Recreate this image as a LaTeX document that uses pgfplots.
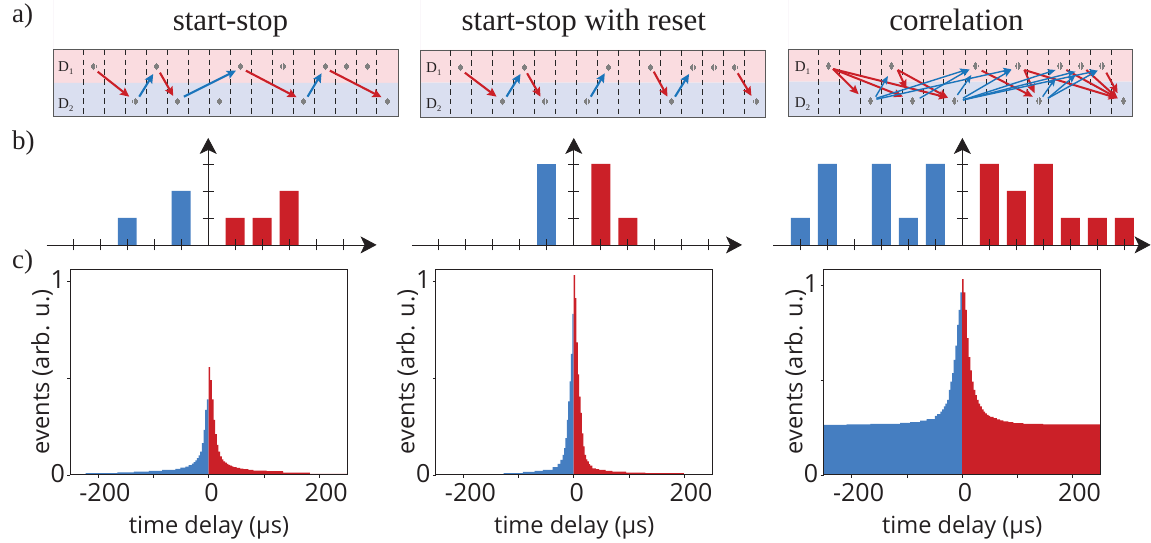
\documentclass[border=0pt]{standalone}
\usepackage{pgfplots}
\pgfplotsset{compat=1.18}
\usepackage{fontspec}
\usetikzlibrary{arrows.meta}
\setmainfont{Liberation Serif}
\newfontfamily\lab{Open Sans}
\definecolor{cblue}{HTML}{457EC1}
\definecolor{cred}{HTML}{CB2028}
\definecolor{ablue}{HTML}{1B75BB}
\definecolor{ared}{HTML}{CB2028}
\definecolor{bgred}{HTML}{FADCE0}
\definecolor{bgblue}{HTML}{DADFF0}
\definecolor{ink}{HTML}{231F20}
\pgfdeclareplotmark{photon}{%
 \pgfsetlinewidth{0.7pt}%
 \pgfpathmoveto{\pgfpoint{0pt}{-3.6pt}}\pgfpathlineto{\pgfpoint{0pt}{3.6pt}}%
 \pgfpathmoveto{\pgfpoint{-1.1pt}{-2.6pt}}\pgfpathlineto{\pgfpoint{-1.1pt}{2.6pt}}%
 \pgfpathmoveto{\pgfpoint{1.1pt}{-2.6pt}}\pgfpathlineto{\pgfpoint{1.1pt}{2.6pt}}%
 \pgfpathmoveto{\pgfpoint{-2.2pt}{-1.3pt}}\pgfpathlineto{\pgfpoint{-2.2pt}{1.3pt}}%
 \pgfpathmoveto{\pgfpoint{2.2pt}{-1.3pt}}\pgfpathlineto{\pgfpoint{2.2pt}{1.3pt}}%
 \pgfusepathqstroke}
\pgfplotsset{
 hist/.style={scale only axis,width=277pt,height=206pt,
   ymin=0,ymax=1.065,
   xtick={-200,0,200},minor xtick={-100,100},
   ytick={0,1},minor ytick={0.5},
   xticklabels={-200,\hspace*{-8pt}0,200},yticklabels={0,1},
   tick align=outside,tick pos=left,
   major tick length=3pt,minor tick length=3pt,
   every tick/.style={ink,line width=0.5pt},
   every minor tick/.style={ink,line width=0.5pt},
   axis line style={ink,line width=0.7pt},
   /pgf/number format/assume math mode=true,
   tick label style={font=\lab\fontsize{25}{25}\selectfont,text=ink},
   xticklabel style={yshift=-2pt,xshift=7pt},
   yticklabel style={xshift=1pt,yshift=1.5pt},
   xlabel={time delay (µs)},ylabel={events (arb. u.)},
   label style={font=\lab\fontsize{23.6}{23.6}\selectfont,text=ink},
   xlabel style={yshift=-7pt},
   ylabel style={yshift=-9pt},
   axis on top},
 bl/.style={fill=cblue,draw=none,const plot mark left},
 rd/.style={fill=cred,draw=none,const plot mark left},
 seq/.style={scale only axis,width=330pt,height=107pt,
   axis lines=middle,ymin=0,ymax=3.963,
   xtick={-5,...,5},ytick={1,2,3},xticklabels={},yticklabels={},
   tick align=center,major tick length=11pt,
   every tick/.style={ink,line width=0.8pt},
   axis line style={ink,line width=0.8pt},
   x axis line style={-{Stealth[length=16pt,width=17pt,inset=4pt]}},
   y axis line style={-{Stealth[length=16pt,width=17pt,inset=4pt]}},
   axis on top,clip=false},
 sb/.style={ybar,bar width=19pt,bar shift=0pt,fill=cblue,draw=none},
 sr/.style={ybar,bar width=19pt,bar shift=0pt,fill=cred,draw=none},
 R/.style={ared,line width=2.1pt,-{Stealth[length=9pt,width=8.5pt,inset=1.5pt]},forget plot},
 B/.style={ablue,line width=2.1pt,-{Stealth[length=9pt,width=8.5pt,inset=1.5pt]},forget plot},
 RT/.style={ared,line width=2pt,-{Stealth[length=9pt,width=8pt,inset=1.5pt]},forget plot},
 BT/.style={ablue,line width=1.4pt,-{Stealth[length=8pt,width=6.5pt,inset=1.5pt]},forget plot},
 dash/.style={black!85,line width=0.9pt,dash pattern=on 5.5pt off 4.2pt,forget plot},
 ph/.style={only marks,mark=photon,draw=black!50,forget plot},
 fr/.style={draw=black!65,line width=0.9pt,fill=none,forget plot}
}
\begin{document}
\begin{tikzpicture}[x=1pt,y=1pt]
\path (0,0) rectangle (1151,542);
% ---------- panel b
\begin{axis}[seq,at={(46.7pt,297pt)},anchor=south west,xmin=-5.985,xmax=6.237]
\addplot[sb] coordinates {(-3,1)(-1,2)};
\addplot[sr] coordinates {(1,1)(2,1)(3,2)};
\end{axis}
\begin{axis}[seq,at={(412pt,297pt)},anchor=south west,xmin=-6,xmax=6.234,width=330.3pt]
\addplot[sb] coordinates {(-1,3)};
\addplot[sr] coordinates {(1,3)(2,1)};
\end{axis}
\begin{axis}[seq,at={(773.3pt,297pt)},anchor=south west,xmin=-7.015,xmax=6.974,width=377.7pt,xtick={-6,...,6}]
\addplot[sb] coordinates {(-6,1)(-5,3)(-3,3)(-2,1)(-1,3)};
\addplot[sr] coordinates {(1,3)(2,2)(3,3)(4,1)(5,1)(6,1)};
\end{axis}
% ---------- panel c
\begin{axis}[hist,at={(70.5pt,67pt)},anchor=south west,xmin=-249.6,xmax=251]
\addplot[bl] coordinates {(-250,.003)(-222,.009)(-165,.013)(-135,.017)(-108,.021)(-84,.026)(-60,.031)(-51,.037)(-42,.043)(-36,.05)(-30,.058)(-27,.066)(-24,.075)(-21,.086)(-18,.1)(-15,.12)(-12,.164)(-9,.233)(-6,.336)(-3,.39)(0,.39)} \closedcycle;
\addplot[rd] coordinates {(0,.557)(3,.49)(6,.39)(9,.284)(12,.21)(15,.155)(18,.12)(21,.095)(24,.08)(27,.069)(30,.063)(33,.057)(36,.052)(39,.048)(42,.044)(45,.04)(51,.036)(57,.032)(63,.03)(72,.026)(81,.022)(105,.019)(135,.012)(183,.005)(251,.004)} \closedcycle;
\addplot[black!45,line width=1.2pt,forget plot] coordinates {(251,0)(251,1.065)};
\end{axis}
\begin{axis}[hist,at={(436pt,67pt)},anchor=south west,xmin=-250,xmax=252.2]
\addplot[bl] coordinates {(-200,.003)(-127,.009)(-92,.015)(-71,.02)(-56,.026)(-38,.04)(-29,.057)(-24,.078)(-20,.103)(-17.5,.138)(-15,.19)(-12.5,.284)(-10,.38)(-7.5,.483)(-5,.626)(-2.5,.833)(0,.833)} \closedcycle;
\addplot[rd] coordinates {(0,1.033)(2.5,.914)(5,.685)(7.5,.52)(10,.405)(12.5,.32)(15,.215)(17.5,.147)(20,.103)(22.5,.08)(25,.069)(27.5,.055)(30,.048)(34,.034)(40,.03)(46,.026)(58,.02)(70,.016)(95,.012)(130,.009)(200,0)} \closedcycle;
\addplot[black!45,line width=1.2pt,forget plot] coordinates {(252.2,0)(252.2,1.065)};
\end{axis}
\begin{axis}[hist,at={(824pt,67pt)},anchor=south west,xmin=-250.5,xmax=251,ymax=1.084,ytick={0,1},minor ytick={0.5}]
\addplot[bl] coordinates {(-251,.263)(-209,.265)(-166,.268)(-112,.274)(-94,.277)(-76,.286)(-64,.293)(-49,.31)(-45,.32)(-39,.333)(-36,.345)(-33,.36)(-30,.375)(-27,.395)(-24,.447)(-21,.49)(-18,.535)(-15,.605)(-12,.68)(-9,.79)(-6,.868)(-3,.96)(0,.96)} \closedcycle;
\addplot[rd] coordinates {(0,1.03)(3,.96)(6,.868)(9,.72)(12,.62)(15,.55)(18,.49)(21,.447)(24,.42)(27,.395)(30,.375)(33,.36)(36,.345)(39,.333)(42,.324)(45,.316)(48,.31)(51,.305)(57,.298)(63,.292)(69,.287)(75,.282)(84,.277)(93,.272)(111,.268)(147,.266)(251,.263)} \closedcycle;
\end{axis}
% ---------- panel a, drawn in picture pixels
\begin{axis}[at={(0pt,0pt)},anchor=south west,scale only axis,width=1151pt,height=542pt,
  xmin=0,xmax=1151,ymin=0,ymax=542,y dir=reverse,hide axis,clip=false]
% box 1
\addplot[fill=bgred,draw=none,forget plot] coordinates {(53.5,49.5)(398.5,49.5)(398.5,83)(53.5,83)} \closedcycle;
\addplot[fill=bgblue,draw=none,forget plot] coordinates {(53.5,83)(398.5,83)(398.5,116.5)(53.5,116.5)} \closedcycle;
\addplot[fr] coordinates {(53.5,49.5)(398.5,49.5)(398.5,116.5)(53.5,116.5)(53.5,49.5)};
\pgfplotsinvokeforeach{83.3,104.3,125.7,146.3,167.7,188.3,209.7,230.7,251.3,272.3,293.3,314.3,335.3,356.3,377}{\addplot[dash] coordinates {(#1,50)(#1,116)};}
\addplot[ph] coordinates {(93.7,66.7)(156.3,66.7)(240.7,66.7)(283,66.7)(325.7,66.7)(346.7,66.7)(367.7,66.7)(135,101.3)(177.3,101.3)(219.3,101.3)(303.7,101.3)(387.7,101.3)};
\addplot[R] coordinates {(97.7,71.7)(129.3,96.7)};
\addplot[B] coordinates {(139.3,96.7)(153.3,74)};
\addplot[R] coordinates {(160,72.7)(173.3,96)};
\addplot[B] coordinates {(184,96.7)(236,70.7)};
\addplot[R] coordinates {(246,70.7)(296.7,97.3)};
\addplot[B] coordinates {(307.7,96.7)(321.7,73.3)};
\addplot[R] coordinates {(330,70.7)(381.7,97.3)};
% box 2
\addplot[fill=bgred,draw=none,forget plot] coordinates {(420.7,50)(766,50)(766,82.7)(420.7,82.7)} \closedcycle;
\addplot[fill=bgblue,draw=none,forget plot] coordinates {(420.7,82.7)(766,82.7)(766,117)(420.7,117)} \closedcycle;
\addplot[fr] coordinates {(420.7,50)(766,50)(766,117)(420.7,117)(420.7,50)};
\pgfplotsinvokeforeach{450.7,471.7,492.7,513.7,534.7,555.7,576.7,597.7,618.7,639.7,660.7,681.7,702.7,723.7,744.7}{\addplot[dash] coordinates {(#1,50.5)(#1,116.5)};}
\addplot[ph] coordinates {(460.7,67.7)(524.3,67.7)(608.3,67.7)(650.7,67.7)(693,67.7)(714,67.7)(735,67.7)(502.7,101.7)(545,101.7)(587,101.7)(671.7,101.7)(756.3,101.7)};
\addplot[R] coordinates {(465,72.7)(496.7,96.7)};
\addplot[B] coordinates {(506.7,96.7)(520.7,74)};
\addplot[R] coordinates {(527.3,73.3)(540.7,96.7)};
\addplot[B] coordinates {(591,96.7)(605,73.3)};
\addplot[R] coordinates {(654,71.7)(667.7,96.7)};
\addplot[B] coordinates {(675.3,96.7)(689.3,74)};
\addplot[R] coordinates {(738,73.3)(751.7,96)};
% box 3
\addplot[fill=bgred,draw=none,forget plot] coordinates {(788.3,49.3)(1133.3,49.3)(1133.3,81.7)(788.3,81.7)} \closedcycle;
\addplot[fill=bgblue,draw=none,forget plot] coordinates {(788.3,81.7)(1133.3,81.7)(1133.3,116)(788.3,116)} \closedcycle;
\addplot[fr] coordinates {(788.3,49.3)(1133.3,49.3)(1133.3,116)(788.3,116)(788.3,49.3)};
\pgfplotsinvokeforeach{818.3,839.3,860.3,881.3,902.3,923.3,944,965.3,986.3,1007,1028,1049.3,1070,1091.3,1112.3}{\addplot[dash] coordinates {(#1,50)(#1,115.5)};}
\addplot[ph] coordinates {(828.7,66)(891.7,66)(976,66)(1018.3,66)(1060.3,66)(1081.3,66)(1102.3,66)(870.7,101)(912.7,101)(955,101)(1039.3,101)(1124,101)};
\addplot[RT] coordinates {(833.3,69)(859,94.3)};
\addplot[RT] coordinates {(833.3,69)(903.3,96.7)};
\addplot[RT] coordinates {(833.3,69)(948.3,97.7)};
\addplot[RT] coordinates {(898,70)(906.7,89)};
\addplot[RT] coordinates {(898,70)(948.3,97.7)};
\addplot[RT] coordinates {(982,70.7)(1033.3,96.7)};
\addplot[RT] coordinates {(1024.7,70)(1035,93.3)};
\addplot[RT] coordinates {(1024.7,70)(1118,98.3)};
\addplot[RT] coordinates {(1066.7,70)(1118,98.3)};
\addplot[RT] coordinates {(1086.7,70)(1118,98.3)};
\addplot[RT] coordinates {(1106.7,72.7)(1118,93.3)};
\addplot[BT] coordinates {(876,96.7)(888.3,76)};
\addplot[BT] coordinates {(876.7,98.3)(968.3,69.3)};
\addplot[BT] coordinates {(876.7,99.3)(1011.7,69.3)};
\addplot[BT] coordinates {(920,98.3)(970,69.3)};
\addplot[BT] coordinates {(957.7,95)(971.7,75)};
\addplot[BT] coordinates {(963.3,98.3)(1011.7,70)};
\addplot[BT] coordinates {(963.3,100)(1056,70)};
\addplot[BT] coordinates {(963.3,100)(1076,71.7)};
\addplot[BT] coordinates {(963.3,100)(1098,70.7)};
\addplot[BT] coordinates {(1043,96.7)(1056,78)};
\addplot[BT] coordinates {(1048.3,98.3)(1076,75)};
\addplot[BT] coordinates {(1048.3,98.3)(1098,70.7)};
\end{axis}
% ---------- text
\node[anchor=base,font=\fontsize{31}{31}\selectfont,text=ink] at (230.5,511) {start-stop};
\node[anchor=base,font=\fontsize{31}{31}\selectfont,text=ink] at (584,511) {start-stop with reset};
\node[anchor=base,font=\fontsize{31}{31}\selectfont,text=ink] at (956.7,511) {correlation};
\node[anchor=base west,font=\fontsize{27}{27}\selectfont,text=ink] at (8.5,519) {a)};
\node[anchor=base west,font=\fontsize{27}{27}\selectfont,text=ink] at (8.5,392) {b)};
\node[anchor=base west,font=\fontsize{27}{27}\selectfont,text=ink] at (8.5,273) {c)};
\foreach \xx/\yy/\tt/\sb in {57/470/D/1,57/433/D/2,425/469/D/1,425/433/D/2,794/470/D/1,794/434/D/2}{
 \node[anchor=base west,inner sep=0pt,font=\fontsize{15}{15}\selectfont,text=ink] at (\xx+1,\yy) {\tt};
 \node[anchor=base west,inner sep=0pt,font=\fontsize{8.5}{8.5}\selectfont,text=ink] at (\xx+12,\yy-3) {\sb};}
\end{tikzpicture}
\end{document}
